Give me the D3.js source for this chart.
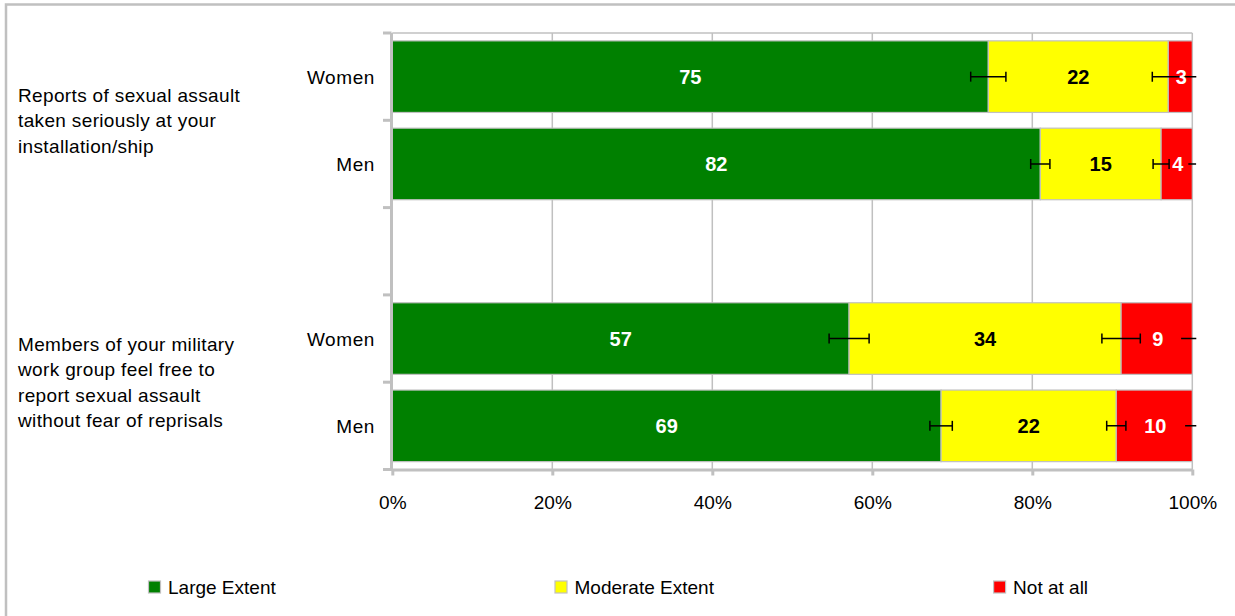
<!DOCTYPE html>
<html>
<head>
<meta charset="utf-8">
<script src="https://cdn.jsdelivr.net/npm/d3@7"></script>
<style>
  html, body { margin: 0; padding: 0; background: #fff; }
  svg { display: block; font-family: "Liberation Sans", Arial, sans-serif; }
</style>
</head>
<body>
<svg id="chart" width="1235" height="616"></svg>
<script>
// ---------- data ----------
const groupLabels = [
  ["Reports of sexual assault", "taken seriously at your", "installation/ship"],
  ["Members of your military", "work group feel free to", "report sexual assault", "without fear of reprisals"]
];
const rowLabels = ["Women", "Men", "", "Women", "Men"];   // third row is an empty spacer
const rowGroup = [0, 0, null, 1, 1];
const barRows = [0, 1, 3, 4];

const largeExtent    = [74.5, 81.0, 57.1, 68.6];
const moderateExtent = [22.5, 15.1, 34.0, 21.9];
const notAtAll       = [3.0, 3.9, 8.9, 9.5];

const largeLabels    = ["75", "82", "57", "69"];
const moderateLabels = ["22", "15", "34", "22"];
const notAtAllLabels = ["3", "4", "9", "10"];

const largeErr    = [2.2, 1.2, 2.5, 1.4];
const moderateErr = [2.0, 1.0, 2.4, 1.2];
const notAtAllErr = [1.0, 0.5, 1.4, 0.9];

const seriesNames  = ["Large Extent", "Moderate Extent", "Not at all"];
const seriesColors = ["#008000", "#ffff00", "#ff0000"];
const labelColors  = ["#ffffff", "#000000", "#ffffff"];
const xTicks = [0, 20, 40, 60, 80, 100];

// ---------- layout ----------
const svg = d3.select("#chart");
const gray = "#c0c0c0";
const txtSpacing = "0.35px";

// outer frame (only top/left visible in the picture)
svg.append("rect").attr("x", 6).attr("y", 4.5).attr("width", 1400).attr("height", 800)
  .attr("fill", "none").attr("stroke", gray).attr("stroke-width", 2.5);

const x = d3.scaleLinear().domain([0, 100]).range([392.3, 1192.3]);
const y = d3.scaleBand().domain(d3.range(rowLabels.length)).range([33, 469.5])
  .paddingInner(0.18).paddingOuter(0.09);

// gridlines
svg.append("g").selectAll("line").data(xTicks.filter(d => d > 0)).join("line")
  .attr("x1", d => x(d)).attr("x2", d => x(d))
  .attr("y1", 33).attr("y2", 469.5)
  .attr("stroke", gray).attr("stroke-width", 1.5);
// top border of plot
svg.append("line").attr("x1", x(0)).attr("x2", x(100)).attr("y1", 33).attr("y2", 33)
  .attr("stroke", gray).attr("stroke-width", 1.5);

// stacked data
const stackData = barRows.map((r, i) => ({
  row: r,
  vals: [largeExtent[i], moderateExtent[i], notAtAll[i]],
  labels: [largeLabels[i], moderateLabels[i], notAtAllLabels[i]],
  errs: [largeErr[i], moderateErr[i], notAtAllErr[i]]
}));
const segs = [];
stackData.forEach(d => {
  let acc = 0;
  d.vals.forEach((v, k) => {
    segs.push({ row: d.row, k, x0: acc, x1: acc + v, label: d.labels[k], err: d.errs[k] });
    acc += v;
  });
});

// bars
svg.append("g").selectAll("rect").data(segs).join("rect")
  .attr("x", d => x(d.x0)).attr("width", d => x(d.x1) - x(d.x0))
  .attr("y", d => y(d.row)).attr("height", y.bandwidth())
  .attr("fill", d => seriesColors[d.k])
  .attr("stroke", gray).attr("stroke-width", 1.2);

// error bars
svg.append("clipPath").attr("id", "errclip").append("rect")
  .attr("x", 0).attr("y", 0).attr("width", x(100.5)).attr("height", 616);
const eg = svg.append("g").attr("clip-path", "url(#errclip)")
  .attr("stroke", "#000").attr("stroke-width", 1.5).attr("fill", "none");
segs.forEach(d => {
  const cy = y(d.row) + y.bandwidth() / 2;
  const a = x(d.x1 - d.err), b = x(d.x1 + d.err);
  eg.append("line").attr("x1", a).attr("x2", b).attr("y1", cy).attr("y2", cy);
  if (d.k < 2) {
    eg.append("line").attr("x1", a).attr("x2", a).attr("y1", cy - 5).attr("y2", cy + 5);
    eg.append("line").attr("x1", b).attr("x2", b).attr("y1", cy - 5).attr("y2", cy + 5);
  }
});

// value labels (drawn over error bars)
svg.append("g").selectAll("text").data(segs).join("text")
  .attr("x", d => (x(d.x0) + x(d.x1)) / 2 + (d.k === 2 ? 1 : 0))
  .attr("y", d => y(d.row) + y.bandwidth() / 2 + 7.5)
  .attr("text-anchor", "middle")
  .attr("font-size", 20).attr("font-weight", "bold")
  .attr("fill", d => labelColors[d.k])
  .text(d => d.label);

// category axis (left)
const step = y.step();
const yTickPos = d3.range(rowLabels.length + 1).map(i => 33 + i * step);
svg.append("line").attr("x1", 391.5).attr("x2", 391.5).attr("y1", 33).attr("y2", 471)
  .attr("stroke", gray).attr("stroke-width", 3);
svg.append("g").selectAll("line").data(yTickPos).join("line")
  .attr("x1", 383).attr("x2", 391.5).attr("y1", d => d).attr("y2", d => d)
  .attr("stroke", gray).attr("stroke-width", 3);

// row labels
svg.append("g").selectAll("text").data(d3.range(rowLabels.length)).join("text")
  .attr("x", 375).attr("y", i => y(i) + y.bandwidth() / 2 + 7.5)
  .attr("text-anchor", "end").attr("font-size", 19).attr("fill", "#000")
  .attr("letter-spacing", "0.6px")
  .text(i => rowLabels[i]);

// group labels
groupLabels.forEach((lines, g) => {
  const rows = d3.range(rowLabels.length).filter(i => rowGroup[i] === g);
  const top = y(rows[0]) - y.step() * y.paddingInner() / 2;
  const bot = y(rows[rows.length - 1]) + y.bandwidth() + y.step() * y.paddingInner() / 2;
  const center = (top + bot) / 2;
  const lh = 25.5;
  const first = center - (lines.length - 1) * lh / 2 + 7;
  svg.append("g").selectAll("text").data(lines).join("text")
    .attr("x", 18).attr("y", (d, i) => first + i * lh)
    .attr("font-size", 19).attr("fill", "#000").attr("letter-spacing", txtSpacing)
    .text(d => d);
});

// x axis
const xAxis = d3.axisBottom(x).tickValues(xTicks).tickFormat(d => d + "%")
  .tickSizeInner(6).tickSizeOuter(0).tickPadding(20);
const xg = svg.append("g").attr("transform", "translate(0,469.5)").call(xAxis);
xg.select(".domain").attr("stroke", gray).attr("stroke-width", 3);
xg.selectAll(".tick line").attr("stroke", gray).attr("stroke-width", 3);
xg.selectAll(".tick text").attr("font-size", 19).attr("fill", "#000")
  .attr("font-family", "Liberation Sans, Arial, sans-serif");

// legend
const legendX = [148.5, 555, 993.6];
const lg = svg.append("g").selectAll("g").data(seriesNames).join("g")
  .attr("transform", (d, i) => `translate(${legendX[i]},581)`);
lg.append("rect").attr("width", 12).attr("height", 12)
  .attr("fill", (d, i) => seriesColors[i]).attr("stroke", gray).attr("stroke-width", 1.2);
lg.append("text").attr("x", 19.5).attr("y", 13).attr("font-size", 19).attr("fill", "#000")
  .text(d => d);
</script>
</body>
</html>
